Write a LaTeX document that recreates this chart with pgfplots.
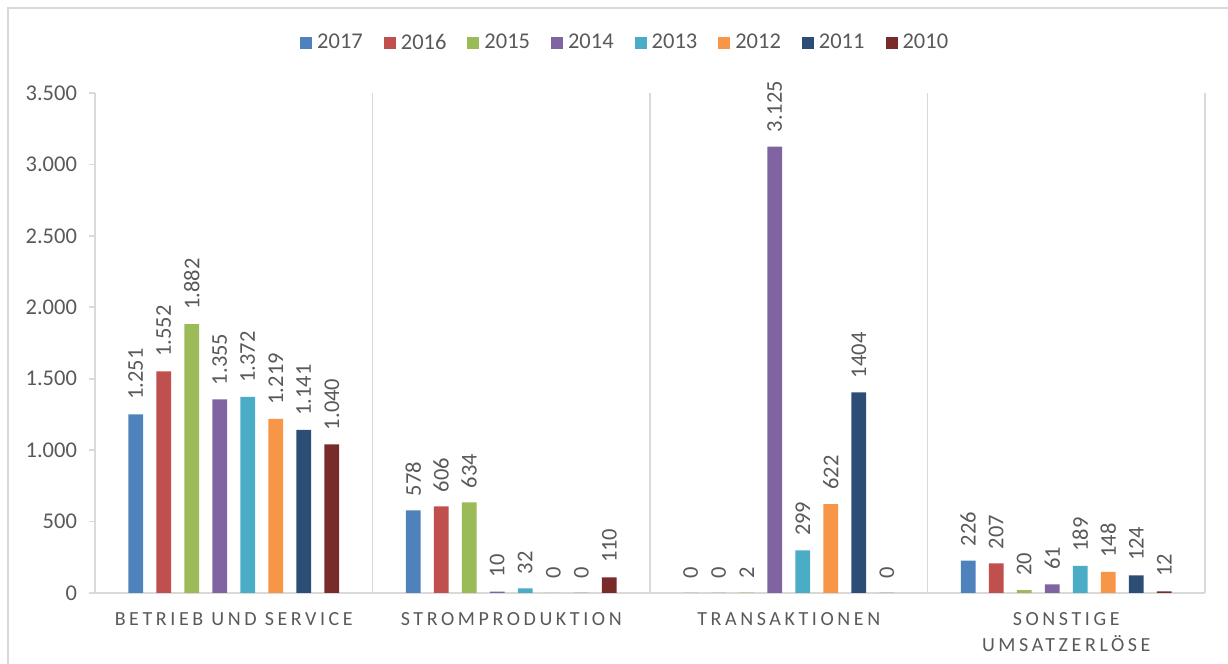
\documentclass[border=0pt]{standalone}
\usepackage{fontspec}
\setmainfont{Carlito}
\newfontfamily\catfont[LetterSpace=18]{Carlito}
\usepackage{pgfplots}
\pgfplotsset{compat=1.18}
\usepackage{pgfplotstable}

\definecolor{cA}{HTML}{4F81BD}
\definecolor{cB}{HTML}{C0504D}
\definecolor{cC}{HTML}{9BBB59}
\definecolor{cD}{HTML}{8064A2}
\definecolor{cE}{HTML}{4BACC6}
\definecolor{cF}{HTML}{F79646}
\definecolor{cG}{HTML}{2C4D75}
\definecolor{cH}{HTML}{772C2A}
\definecolor{labgray}{HTML}{595959}
\definecolor{axgray}{HTML}{D9D9D9}

\pgfplotstableread{
x y lab
0 1251 1.251
1 578 578
2 0 0
3 226 226
}\dA
\pgfplotstableread{
x y lab
0 1552 1.552
1 606 606
2 0 0
3 207 207
}\dB
\pgfplotstableread{
x y lab
0 1882 1.882
1 634 634
2 2 2
3 20 20
}\dC
\pgfplotstableread{
x y lab
0 1355 1.355
1 10 10
2 3125 3.125
3 61 61
}\dD
\pgfplotstableread{
x y lab
0 1372 1.372
1 32 32
2 299 299
3 189 189
}\dE
\pgfplotstableread{
x y lab
0 1219 1.219
1 0 0
2 622 622
3 148 148
}\dF
\pgfplotstableread{
x y lab
0 1141 1.141
1 0 0
2 1404 1404
3 124 124
}\dG
\pgfplotstableread{
x y lab
0 1040 1.040
1 110 110
2 0 0
3 12 12
}\dH

\pgfplotsset{
  mybar/.style={fill=#1, draw=none,
    legend image code/.code={\fill[#1] (0pt,-3pt) rectangle (6pt,3pt);}},
}

\begin{document}
\begin{tikzpicture}
\useasboundingbox (0,0) rectangle (614pt,332pt);
\draw[axgray, line width=1pt] (4pt,0) -- (4pt,328pt) -- (614pt,328pt);
\begin{axis}[
  at={(47.5pt,35.5pt)}, anchor=south west,
  scale only axis, width=555pt, height=250pt,
  clip=false,
  ybar, bar width=0.053,
  xmin=-0.5, xmax=3.5, ymin=0, ymax=3500,
  axis x line*=bottom, axis y line*=left,
  axis line style={axgray, line width=0.8pt, -},
  ytick={0,500,...,3500},
  xtick={0,1,2,3},
  xticklabels={BETRIEB UND SERVICE, STROMPRODUKTION, TRANSAKTIONEN, {SONSTIGE\\UMSATZERLÖSE}},
  xticklabel style={font=\catfont\fontsize{10}{13}\selectfont, text=labgray, align=center, yshift=-3pt},
  x tick style={draw=none},
  extra x ticks={0.5,1.5,2.5,3.5},
  extra x tick labels={},
  extra x tick style={grid=major, major grid style={axgray, line width=0.8pt}},
  y tick style={axgray, line width=0.8pt},
  tick align=outside,
  major tick length=3pt,
  yticklabel style={font=\fontsize{11.25}{13}\selectfont, text=labgray, xshift=-2.5pt},
  /pgf/number format/.cd, 1000 sep={.}, assume math mode=true, /pgfplots/.cd,
  point meta=explicit symbolic,
  nodes near coords,
  every node near coord/.append style={rotate=90, anchor=west, font=\fontsize{11.25}{13}\selectfont, text=labgray, inner xsep=7pt, inner ysep=0pt},
  legend style={at={(0.479,1.1)}, anchor=center, draw=none, fill=none,
    legend columns=-1, font=\fontsize{11.25}{13}\selectfont, text=labgray,
    nodes={inner xsep=2.5pt, inner ysep=1pt},
    /tikz/every even column/.append style={column sep=8pt}},
]
\addplot[mybar=cA, bar shift=-0.3535] table[x=x,y=y,meta=lab] {\dA};
\addplot[mybar=cB, bar shift=-0.2525] table[x=x,y=y,meta=lab] {\dB};
\addplot[mybar=cC, bar shift=-0.1515] table[x=x,y=y,meta=lab] {\dC};
\addplot[mybar=cD, bar shift=-0.0505] table[x=x,y=y,meta=lab] {\dD};
\addplot[mybar=cE, bar shift=0.0505] table[x=x,y=y,meta=lab] {\dE};
\addplot[mybar=cF, bar shift=0.1515] table[x=x,y=y,meta=lab] {\dF};
\addplot[mybar=cG, bar shift=0.2525] table[x=x,y=y,meta=lab] {\dG};
\addplot[mybar=cH, bar shift=0.3535] table[x=x,y=y,meta=lab] {\dH};
\legend{2017,2016,2015,2014,2013,2012,2011,2010}
\end{axis}
\end{tikzpicture}
\end{document}
